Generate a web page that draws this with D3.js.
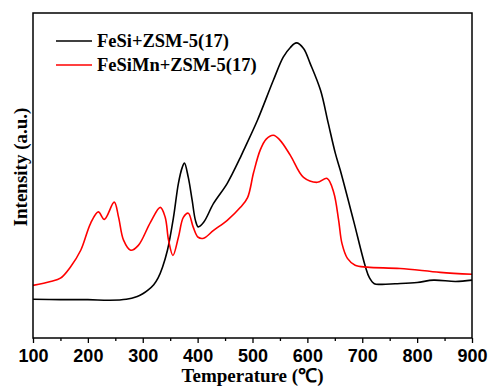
<!DOCTYPE html>
<html>
<head>
<meta charset="utf-8">
<script src="https://cdn.jsdelivr.net/npm/d3@7"></script>
<style>
  body { margin: 0; background: #fff; }
  svg { display: block; }
  .tick-label { font-family: "Liberation Sans", Arial, sans-serif; font-weight: bold; font-size: 18px; }
  .title { font-family: "Liberation Serif", "Times New Roman", serif; font-weight: bold; }
</style>
</head>
<body>
<div id="chart"></div>
<script>
// temperature (°C) and intensity (a.u., 0-100 of plot height)
var tempFeSi = [100, 150, 200, 240, 270, 290, 300, 310, 320, 328, 336, 345, 356, 365, 372, 376, 383, 390, 396, 401, 411, 429, 454, 478, 484, 509, 538, 556, 569, 580, 593, 605, 624, 638, 651, 660, 684, 706, 713, 722, 735, 760, 800, 830, 870, 900];
var intFeSi = [11.9, 11.8, 11.8, 11.6, 11.9, 12.8, 13.6, 14.8, 16.4, 18.5, 21.8, 27.0, 37.1, 47.6, 52.5, 53.8, 49.4, 42.4, 36.2, 34.2, 35.6, 41.4, 47.6, 55.6, 57.8, 67.0, 79.3, 86.4, 89.4, 90.8, 89.1, 84.5, 76.2, 66.1, 56.8, 51.6, 36.2, 21.8, 18.6, 16.7, 16.5, 16.7, 17.1, 17.8, 17.4, 17.8];

var tempFeSiMn = [100, 132, 150, 168, 187, 205, 219, 230, 248, 256, 265, 278, 292, 314, 332, 341, 347, 355, 365, 374, 383, 392, 401, 411, 429, 454, 478, 491, 502, 514, 525, 538, 550, 569, 593, 618, 636, 648, 657, 663, 673, 687, 709, 769, 842, 900];
var intFeSiMn = [16.2, 17.4, 18.4, 21.8, 27.0, 35.3, 38.8, 36.5, 41.8, 37.1, 30.1, 27.0, 28.5, 35.6, 40.2, 37.1, 30.1, 25.4, 31.0, 37.1, 38.4, 34.1, 31.0, 30.7, 33.1, 36.2, 40.2, 43.2, 50.9, 57.8, 61.2, 62.4, 60.9, 56.2, 49.4, 47.9, 49.1, 44.8, 36.2, 29.1, 24.5, 22.4, 21.8, 21.4, 20.2, 19.6];

var seriesNames = ["FeSi+ZSM-5(17)", "FeSiMn+ZSM-5(17)"];
var seriesColors = ["#000000", "#ff0000"];
var xTicks = [100, 200, 300, 400, 500, 600, 700, 800, 900];
var xMinorTicks = [150, 250, 350, 450, 550, 650, 750, 850];

var width = 489, height = 387;
var margin = {top: 13, right: 17, bottom: 49, left: 33};
var w = width - margin.left - margin.right;
var h = height - margin.top - margin.bottom;

var svg = d3.select("#chart").append("svg")
  .attr("width", width)
  .attr("height", height);

var g = svg.append("g")
  .attr("transform", "translate(" + margin.left + "," + margin.top + ")");

var x = d3.scaleLinear().domain([100, 900]).range([0, w]);
var y = d3.scaleLinear().domain([0, 100]).range([h, 0]);

// minor ticks
var minorAxis = d3.axisBottom(x).tickValues(xMinorTicks).tickSize(3).tickFormat("");
g.append("g").attr("transform", "translate(0," + h + ")").call(minorAxis)
  .call(function(a) { a.select(".domain").remove(); a.selectAll("line").attr("stroke-width", 1.3); });

var xAxis = d3.axisBottom(x).tickValues(xTicks).tickSize(5).tickPadding(5).tickFormat(d3.format("d"));
g.append("g").attr("transform", "translate(0," + h + ")").call(xAxis)
  .call(function(a) {
    a.select(".domain").remove();
    a.selectAll("line").attr("stroke-width", 1.3);
    a.selectAll("text").attr("class", "tick-label").attr("fill", "#000").attr("dy", "0.75em");
  });

var line = d3.line()
  .x(function(d) { return x(d[0]); })
  .y(function(d) { return y(d[1]); })
  .curve(d3.curveCatmullRom.alpha(0.5));

var series = [
  d3.zip(tempFeSi, intFeSi),
  d3.zip(tempFeSiMn, intFeSiMn)
];

g.selectAll(".series")
  .data(series)
  .enter().append("path")
  .attr("class", "series")
  .attr("fill", "none")
  .attr("stroke", function(d, i) { return seriesColors[i]; })
  .attr("stroke-width", 1.6)
  .attr("d", line);

// frame
g.append("rect")
  .attr("width", w).attr("height", h)
  .attr("fill", "none").attr("stroke", "#000").attr("stroke-width", 1.5);

// legend
var legend = g.selectAll(".legend")
  .data(seriesNames)
  .enter().append("g")
  .attr("class", "legend")
  .attr("transform", function(d, i) { return "translate(23," + (28 + i * 24) + ")"; });

legend.append("line")
  .attr("x1", 0).attr("x2", 36)
  .attr("stroke", function(d, i) { return seriesColors[i]; })
  .attr("stroke-width", 1.6);

legend.append("text")
  .attr("class", "title")
  .attr("x", 41).attr("y", 5.5)
  .style("font-size", "18.5px")
  .text(function(d) { return d; });

// axis titles
svg.append("text")
  .attr("class", "title")
  .attr("x", margin.left + w / 2).attr("y", 382)
  .attr("text-anchor", "middle")
  .style("font-size", "19px")
  .text("Temperature (℃)");

svg.append("text")
  .attr("class", "title")
  .attr("transform", "translate(27," + 167 + ") rotate(-90)")
  .attr("text-anchor", "middle")
  .style("font-size", "19px")
  .text("Intensity (a.u.)");
</script>
</body>
</html>
